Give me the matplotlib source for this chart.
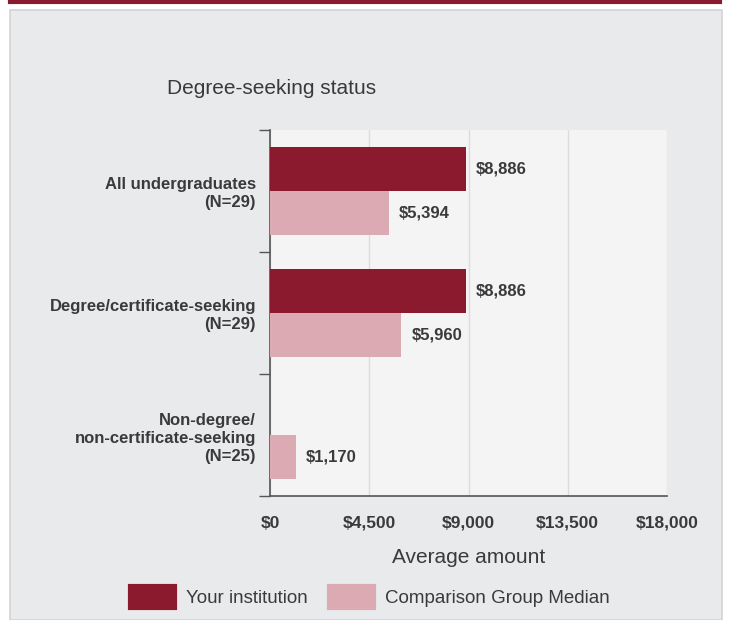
import matplotlib.pyplot as plt
import numpy as np
from matplotlib.patches import Patch, Rectangle
from matplotlib.lines import Line2D

# chart data
categories = ['All undergraduates\n(N=29)',
              'Degree/certificate-seeking\n(N=29)',
              'Non-degree/\nnon-certificate-seeking\n(N=25)']
institution = [8886, 8886, None]
comparison = [5394, 5960, 1170]
xticks = [0, 4500, 9000, 13500, 18000]
series_names = ['Your institution', 'Comparison Group Median']

maroon = '#8b1a2e'
pink = '#dcaab3'
panel = '#e9eaec'
txt = '#3a3a3a'

plt.rcParams['font.family'] = ['Liberation Sans', 'DejaVu Sans']

fig = plt.figure(figsize=(7.3, 6.2), dpi=100)
fig.patch.set_facecolor('white')

# grey panel and top rule
fig.add_artist(Rectangle((10 / 730, 0), 712 / 730, 610 / 620, transform=fig.transFigure,
                         facecolor=panel, edgecolor='#d4d4d4', linewidth=1.2, zorder=-5))
fig.add_artist(Line2D([10 / 730, 720 / 730], [1 - 1.5 / 620, 1 - 1.5 / 620],
                      transform=fig.transFigure, color=maroon, linewidth=3))

ax = fig.add_axes([270 / 730, 0.2, 397 / 730, 366 / 620])
ax.set_facecolor('#f4f4f4')
ax.set_zorder(2)

y = np.arange(len(categories))
h = 0.36
for i in range(len(categories)):
    if institution[i] is not None:
        ax.barh(y[i] - h / 2, institution[i], height=h, color=maroon, zorder=3)
        ax.text(institution[i] + 450, y[i] - h / 2, f'${institution[i]:,}', va='center',
                ha='left', fontsize=12, color=txt, fontweight='bold')
    ax.barh(y[i] + h / 2, comparison[i], height=h, color=pink, zorder=3)
    ax.text(comparison[i] + 450, y[i] + h / 2, f'${comparison[i]:,}', va='center',
            ha='left', fontsize=12, color=txt, fontweight='bold')

ax.set_xlim(0, 18000)
ax.set_ylim(len(categories) - 0.5, -0.5)
ax.set_xticks(xticks)
ax.set_xticklabels([f'${v:,}' for v in xticks], fontsize=12.5, color=txt, fontweight='bold',
                   va='baseline')
ax.tick_params(axis='x', length=0, pad=23)
ax.grid(axis='x', color='#dcdcdc', linewidth=1, zorder=0)

# category separators as ticks, labels as minor ticks
ax.set_yticks(np.arange(len(categories) + 1) - 0.5)
ax.set_yticklabels([])
ax.tick_params(axis='y', which='major', length=8, color='#555555', width=1)
ax.set_yticks(y, minor=True)
ax.set_yticklabels(categories, minor=True, fontsize=12, color=txt, fontweight='bold',
                   ha='right', multialignment='right', linespacing=1.25)
ax.tick_params(axis='y', which='minor', length=0, pad=10)

for s in ['top', 'right']:
    ax.spines[s].set_visible(False)
ax.spines['left'].set_color('#555555')
ax.spines['bottom'].set_color('#555555')
ax.spines['left'].set_linewidth(1.2)
ax.spines['bottom'].set_linewidth(1.2)

ax.set_xlabel('Average amount', fontsize=15, color=txt, labelpad=12)
fig.text(167 / 730, 1 - 88 / 620, 'Degree-seeking status', fontsize=15, color=txt,
         va='center', ha='left')

handles = [Patch(facecolor=maroon, edgecolor=maroon, linewidth=3, joinstyle='round'),
           Patch(facecolor=pink, edgecolor=pink, linewidth=3, joinstyle='round')]
fig.legend(handles, series_names, loc='center', bbox_to_anchor=(370 / 730, 1 - 597 / 620),
           ncol=2, frameon=False, fontsize=13.5, handlelength=2.4, handleheight=1.45,
           handletextpad=0.6, columnspacing=1.1, labelcolor=txt)

fig.savefig('out.png', dpi=100, facecolor=fig.get_facecolor())
